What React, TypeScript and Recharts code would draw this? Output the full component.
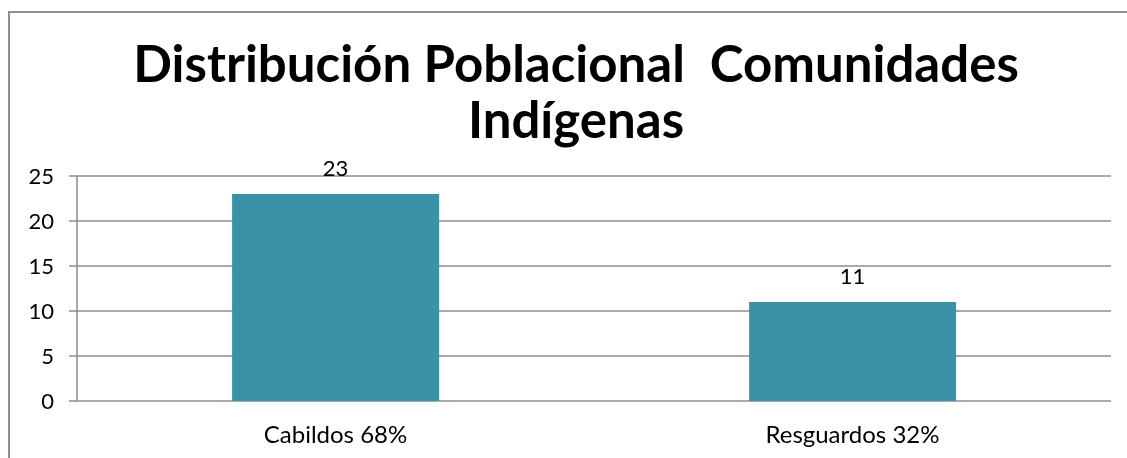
import { Bar, BarChart, CartesianGrid, LabelList, XAxis, YAxis } from "recharts";

const categories = ["Cabildos 68%", "Resguardos 32%"];
const counts = [23, 11];
const yTicks = [0, 5, 10, 15, 20, 25];

const data = categories.map((name, i) => ({ name, value: counts[i] }));

const FONT = "Lato, 'Open Sans', sans-serif";
const GRID = "#8e8e8e";
const BAR = "#3a92a8";

export default function App() {
  return (
    <div
      style={{
        position: "relative",
        width: 1111,
        height: 442,
        overflow: "hidden",
        fontFamily: FONT,
      }}
    >
      {/* chart frame: only its left and top edges fall inside the window */}
      <svg
        width={1127}
        height={458}
        style={{ position: "fixed", left: 0, top: 0, pointerEvents: "none" }}
      >
        <path d="M9 458 V12 H1127" fill="none" stroke={GRID} strokeWidth={2} />
      </svg>
      <div
        style={{
          position: "absolute",
          left: 0,
          top: 27,
          width: 1136,
          textAlign: "center",
          fontSize: 51,
          fontWeight: 700,
          lineHeight: "56px",
          color: "#000",
          whiteSpace: "nowrap",
        }}
      >
        <div>Distribución Poblacional&nbsp; Comunidades</div>
        <div>Indígenas</div>
      </div>
      <BarChart
        width={1111}
        height={442}
        data={data}
        margin={{ top: 168, right: 8, left: 0, bottom: 0 }}
        barCategoryGap="30%"
        style={{ position: "absolute", left: 0, top: 0 }}
      >
        <CartesianGrid vertical={false} stroke={GRID} strokeWidth={1.5} />
        <XAxis
          type="number"
          domain={[0, 2]}
          ticks={[0, 1, 2]}
          height={0}
          stroke={GRID}
          strokeWidth={1.5}
          tickSize={7}
          tick={() => <g />}
        />
        <XAxis
          xAxisId="cat"
          dataKey="name"
          height={49}
          axisLine={false}
          tickLine={false}
          tick={{ fill: "#000", fontSize: 24, fontFamily: FONT }}
          dy={17}
        />
        <YAxis
          width={69}
          domain={[0, 25]}
          ticks={yTicks}
          stroke={GRID}
          strokeWidth={1.5}
          tickSize={8}
          tick={{ fill: "#000", fontSize: 22, fontFamily: FONT }}
          dx={-13}
        />
        <Bar dataKey="value" xAxisId="cat" fill={BAR} isAnimationActive={false}>
          <LabelList dataKey="value" position="top" offset={18} fill="#000" fontSize={22} fontFamily={FONT} />
        </Bar>
      </BarChart>
    </div>
  );
}
